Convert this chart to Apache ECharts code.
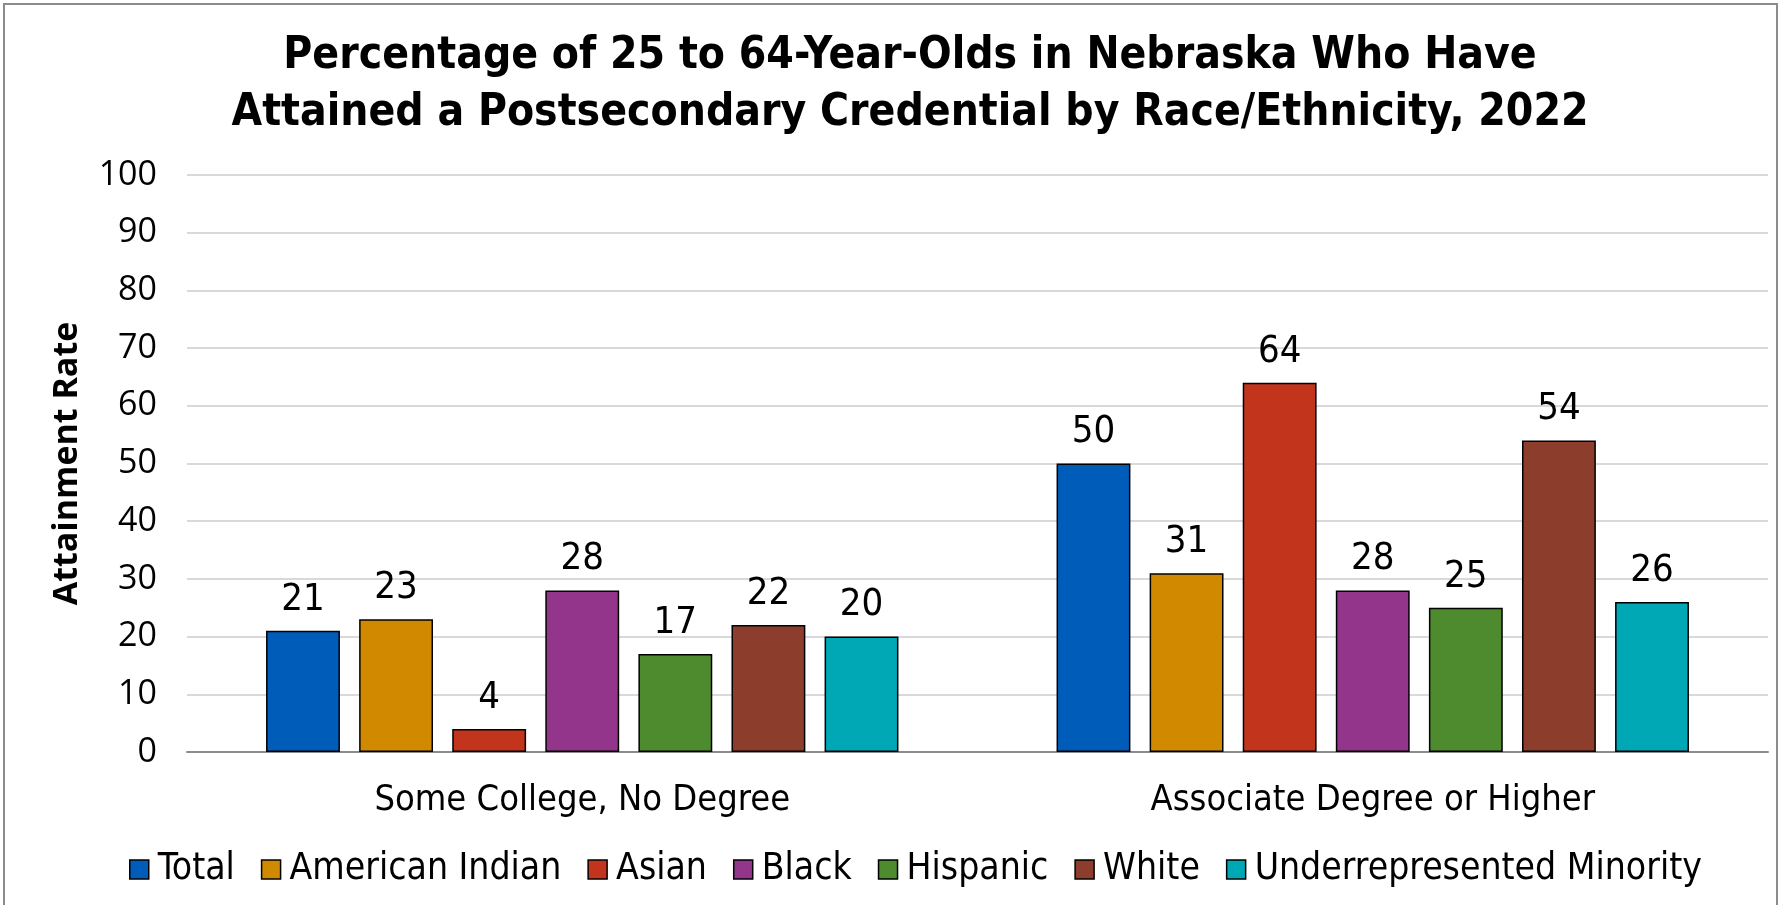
<!DOCTYPE html>
<html>
<head>
<meta charset="utf-8">
<script src="https://cdn.jsdelivr.net/npm/echarts@6/dist/echarts.min.js"></script>
<style>
  html, body { margin: 0; padding: 0; background: #ffffff; }
  #chart { width: 1781px; height: 905px; }
</style>
</head>
<body>
<div id="chart"></div>
<script>
// Attainment categories on the x axis
const categories = ['Some College, No Degree', 'Associate Degree or Higher'];

// Race/ethnicity groups, one bar series each
const groups = ['Total', 'American Indian', 'Asian', 'Black', 'Hispanic', 'White', 'Underrepresented Minority'];
const groupColors = ['#005cb9', '#d18a00', '#c3341c', '#93358a', '#4e8b2e', '#8d3d2b', '#00a7b5'];

// Attainment rate (%) per group, in category order
const totalVals = [21, 50];
const americanIndianVals = [23, 31];
const asianVals = [4, 64];
const blackVals = [28, 28];
const hispanicVals = [17, 25];
const whiteVals = [22, 54];
const urmVals = [20, 26];

// Y axis ticks
const yMin = 0, yMax = 100, yStep = 10;

const seriesValues = [totalVals, americanIndianVals, asianVals, blackVals, hispanicVals, whiteVals, urmVals];

const narrow = '"Liberation Sans Narrow", "DejaVu Sans Condensed", "Arial Narrow", sans-serif';
const plain = '"Open Sans", "Noto Sans", sans-serif';

const chart = echarts.init(document.getElementById('chart'), null, { renderer: 'canvas' });

chart.setOption({
  backgroundColor: '#ffffff',
  animation: false,
  title: {
    text: 'Percentage of 25 to 64-Year-Olds in Nebraska Who Have\nAttained a Postsecondary Credential by Race/Ethnicity, 2022',
    left: 905,
    top: 23,
    textAlign: 'center',
    textStyle: {
      fontFamily: narrow,
      fontWeight: 'bold',
      fontSize: 44,
      lineHeight: 57,
      color: '#000000'
    }
  },
  graphic: [{
    type: 'rect',
    shape: { x: 4, y: 4, width: 1773, height: 1000 },
    style: { fill: 'none', stroke: '#8c8c8c', lineWidth: 2 },
    silent: true,
    z: -1
  }],
  legend: {
    data: groups,
    left: 124,
    top: 846,
    itemWidth: 19,
    itemHeight: 19,
    itemGap: 26,
    icon: 'rect',
    textStyle: {
      fontFamily: narrow,
      fontSize: 37,
      color: '#000000',
      padding: [0, 0, 0, 4]
    },
    itemStyle: { borderColor: '#000000', borderWidth: 1.5 }
  },
  grid: {
    left: 187,
    right: 13,
    top: 175,
    bottom: 153,
    containLabel: false
  },
  xAxis: {
    type: 'category',
    data: categories,
    axisTick: { show: false },
    axisLine: { lineStyle: { color: '#8c8c8c', width: 2 } },
    axisLabel: {
      fontFamily: narrow,
      fontSize: 36,
      color: '#000000',
      margin: 31
    }
  },
  yAxis: {
    type: 'value',
    min: yMin,
    max: yMax,
    interval: yStep,
    name: 'Attainment Rate',
    nameLocation: 'middle',
    nameRotate: 90,
    nameGap: 103,
    nameTextStyle: {
      fontFamily: plain,
      fontWeight: 'bold',
      fontSize: 34,
      color: '#000000'
    },
    axisLine: { show: false },
    axisTick: { show: false },
    axisLabel: {
      fontFamily: plain,
      fontSize: 34,
      color: '#000000',
      margin: 30
    },
    splitLine: { lineStyle: { color: '#d9d9d9', width: 2 } }
  },
  series: groups.map((name, i) => ({
    name: name,
    type: 'bar',
    data: seriesValues[i],
    barGap: '26%',
    barCategoryGap: '20%',
    itemStyle: {
      color: groupColors[i],
      borderColor: '#000000',
      borderWidth: 1.5
    },
    label: {
      show: true,
      position: 'top',
      distance: 12,
      fontFamily: narrow,
      fontSize: 38,
      color: '#000000'
    }
  }))
});
</script>
</body>
</html>
